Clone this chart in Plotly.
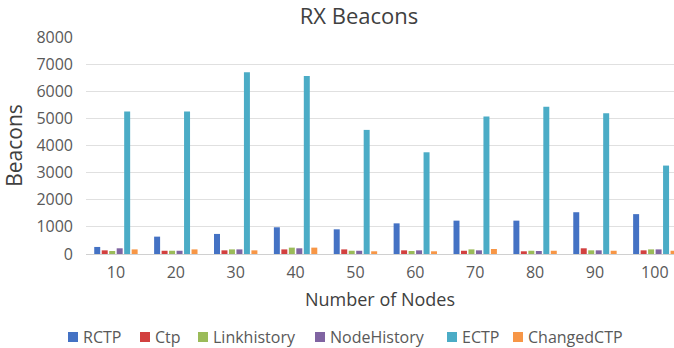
import plotly.graph_objects as go

# Received beacons per protocol vs. network size
nodes = ["10", "20", "30", "40", "50", "60", "70", "80", "90", "100"]
rctp = [260, 640, 740, 985, 910, 1130, 1230, 1230, 1540, 1470]
ctp = [135, 120, 135, 170, 170, 135, 120, 100, 210, 135]
linkhistory = [110, 120, 170, 235, 120, 110, 170, 120, 135, 170]
nodehistory = [210, 120, 170, 210, 120, 135, 135, 110, 135, 170]
ectp = [5250, 5250, 6700, 6560, 4575, 3750, 5070, 5430, 5190, 3260]
changedctp = [170, 170, 135, 235, 100, 100, 185, 120, 120, 120]

series = [
    ("RCTP", rctp, "#4472C4"),
    ("Ctp", ctp, "#D2403F"),
    ("Linkhistory", linkhistory, "#9BBB59"),
    ("NodeHistory", nodehistory, "#8064A2"),
    ("ECTP", ectp, "#4BACC6"),
    ("ChangedCTP", changedctp, "#F79646"),
]

W, H = 674, 348
ML, MR, MT, MB = 86, 0, 37, 94
PW, PH = W - ML - MR, H - MT - MB

font = "Open Sans"
grey = "#595959"
dark = "#404040"

fig = go.Figure()
for name, vals, color in series:
    fig.add_trace(go.Bar(name=name, x=nodes, y=vals, marker_color=color,
                         marker_line_width=0, showlegend=False))

# Legend row below the axis: colour square followed by the series name
legend_left = [68, 140, 198, 315, 447, 513]
legend_y = 337
sq = 10
shapes, annotations = [], []
for (name, _, color), lx in zip(series, legend_left):
    x0 = (lx - ML) / PW
    x1 = (lx + sq - ML) / PW
    y0 = (H - MB - (legend_y + sq / 2)) / PH
    y1 = (H - MB - (legend_y - sq / 2)) / PH
    shapes.append(dict(type="rect", xref="paper", yref="paper",
                       x0=x0, x1=x1, y0=y0, y1=y1,
                       fillcolor=color, line_width=0))
    annotations.append(dict(text=name, xref="paper", yref="paper",
                            x=(lx + sq + 3 - ML) / PW,
                            y=(H - MB - legend_y) / PH,
                            xanchor="left", yanchor="middle",
                            showarrow=False,
                            font=dict(size=16, color=grey, family=font)))

fig.update_layout(
    width=W, height=H,
    margin=dict(l=ML, r=MR, t=MT, b=MB),
    paper_bgcolor="white", plot_bgcolor="white",
    barmode="group", bargap=0.25, bargroupgap=0.2,
    showlegend=False,
    font=dict(family=font, color=grey, size=15),
    title=dict(text="RX Beacons", x=359 / W, xanchor="center",
               y=1 - 16 / H, yanchor="middle",
               font=dict(size=22, color=dark)),
    xaxis=dict(range=[-0.5, 9.32], showgrid=False, zeroline=False,
               showline=False, ticks="", ticklabelstandoff=7,
               tickfont=dict(size=16, color=grey),
               title=dict(text="Number of Nodes", standoff=11,
                          font=dict(size=18, color=dark))),
    yaxis=dict(range=[0, 8000], dtick=1000, showgrid=True,
               gridcolor="#E0E0E0", gridwidth=1, zeroline=True,
               zerolinecolor="#D0D0D0", zerolinewidth=1, showline=False,
               ticks="", ticklabelstandoff=12,
               tickfont=dict(size=16, color=grey),
               title=dict(text="Beacons", standoff=10,
                          font=dict(size=21, color=dark))),
    shapes=shapes,
    annotations=annotations,
)

fig.write_html("out.html")
